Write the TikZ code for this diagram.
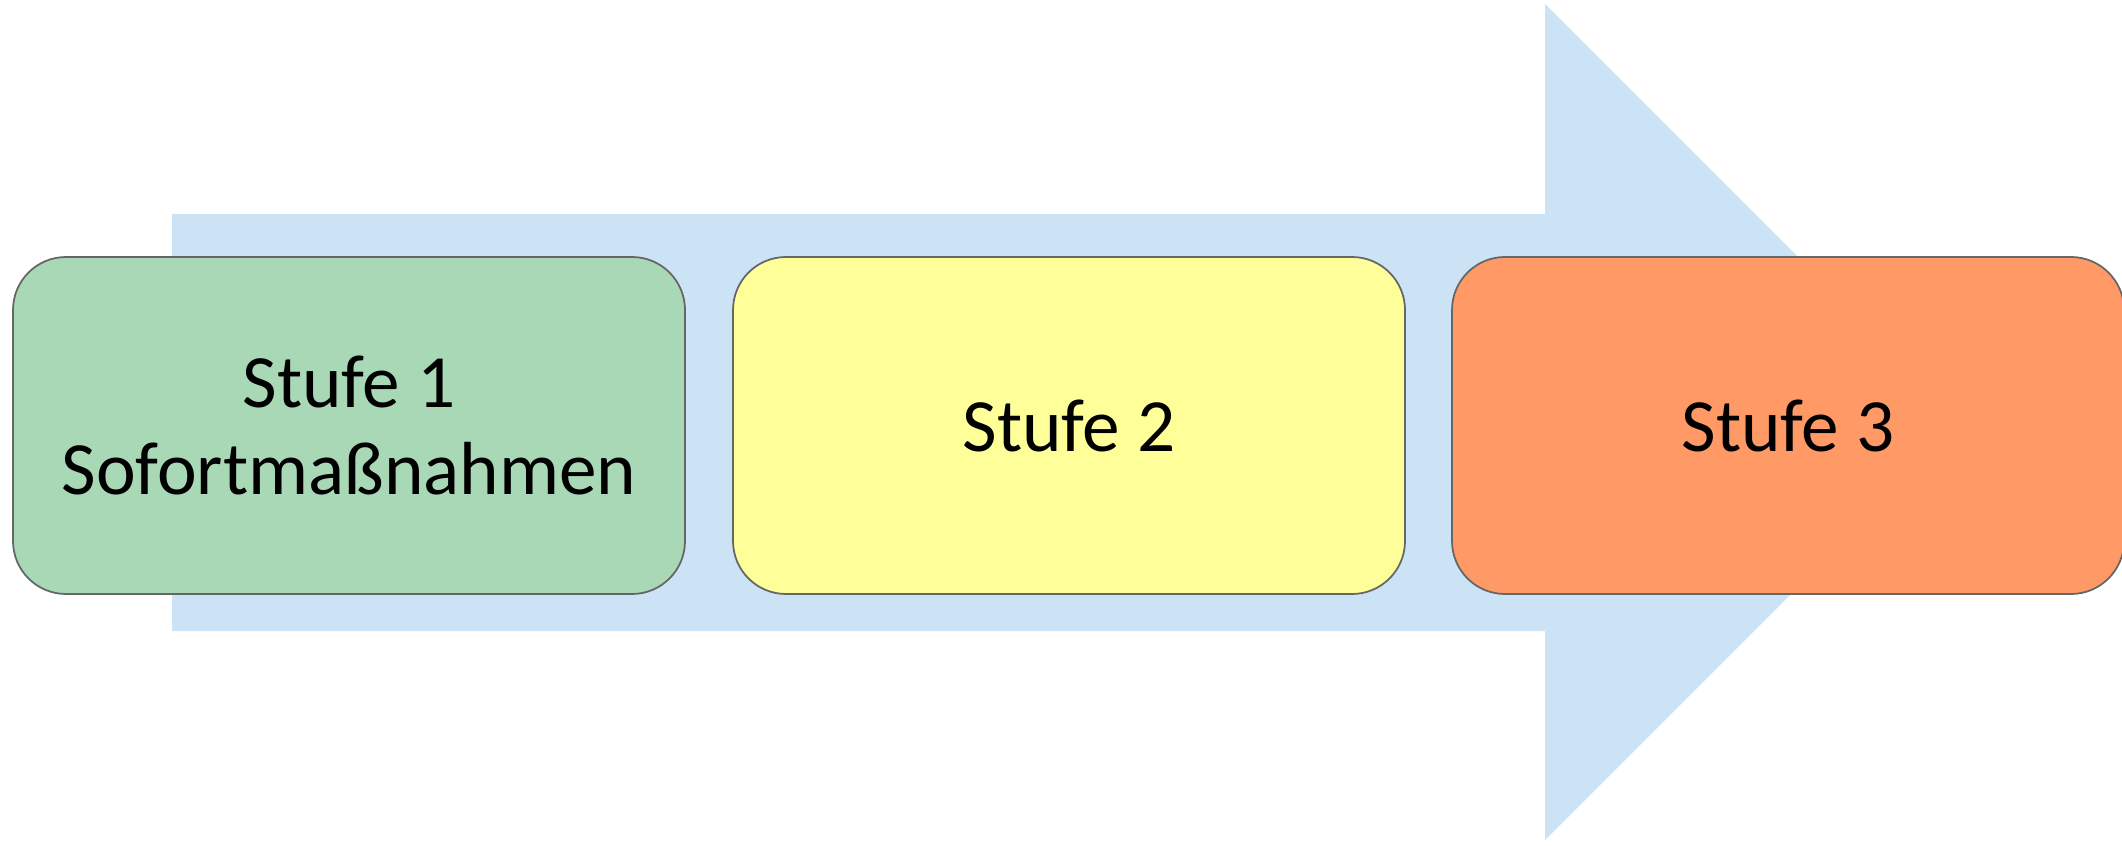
\documentclass[tikz,border=0pt]{standalone}
\usepackage{fontspec}
\setmainfont{Carlito}
\usepackage{xcolor}
\definecolor{arrowBlue}{HTML}{CCE2F5}
\definecolor{stufeGreen}{HTML}{A9D8B7}
\definecolor{stufeYellow}{HTML}{FFFF99}
\definecolor{stufeOrange}{HTML}{FF9966}
\tikzset{stufebox/.style={draw=black!60, line width=0.5pt, rounded corners=0.53cm,
  minimum width=6.72cm, minimum height=3.37cm, inner sep=0pt, align=center,
  font=\fontsize{21.4}{24.8}\selectfont}}

\begin{document}
\begin{tikzpicture}

\useasboundingbox (0,0) rectangle (21.22,8.45);

% big arrow in the background
\fill[arrowBlue] (1.72,6.31) -- (15.45,6.31) -- (15.45,8.41) -- (19.63,4.23)
  -- (15.45,0.05) -- (15.45,2.14) -- (1.72,2.14) -- cycle;

\node[stufebox, fill=stufeGreen] (stufe1) at (3.49, 4.195) {Stufe 1\\Sofortmaßnahmen};
\node[stufebox, fill=stufeYellow] (stufe2) at (10.69, 4.195) {Stufe 2};
\node[stufebox, fill=stufeOrange] (stufe3) at (17.88, 4.195) {Stufe 3};

\end{tikzpicture}
\end{document}
